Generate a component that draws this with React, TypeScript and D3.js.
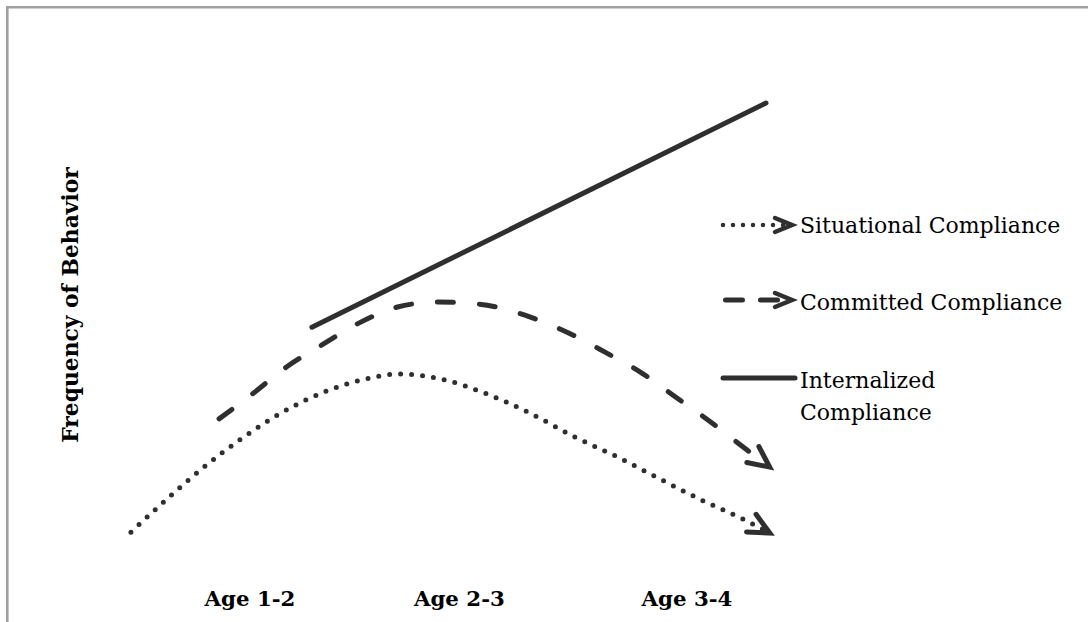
import React from 'react';
import * as d3 from 'd3';

// Categories (x-axis labels) and their positions in months
const categories = ['Age 1-2', 'Age 2-3', 'Age 3-4'];
const categoryMonths = [18, 29.5, 42];

// Situational compliance (dotted)
const situationalMonths = [11.46, 13.44, 15.42, 17.5, 19.7, 22.06, 23.93, 26.24, 28.49, 31.0, 33.38, 35.74, 38.16, 40.5, 42.8, 45.2, 46.45];
const situationalValues = [5.8, 12.7, 19.2, 25.2, 30.6, 35.0, 37.3, 38.75, 37.7, 34.6, 30.6, 25.8, 21.5, 16.9, 12.5, 8.3, 5.8];

// Committed compliance (dashed)
const committedMonths = [16.3, 18.2, 20.0, 21.95, 24.0, 26.1, 28.3, 30.6, 33.4, 35.5, 37.5, 39.5, 41.45, 43.3, 45.3, 46.45];
const committedValues = [29.4, 34.8, 40.2, 44.8, 49.4, 52.7, 53.75, 53.3, 50.6, 47.3, 43.3, 39.0, 33.75, 28.75, 22.9, 19.6];

// Internalized compliance (solid)
const internalizedMonths = [21.4, 46.34];
const internalizedValues = [48.5, 95.2];

const legendLabels = ['Situational Compliance', 'Committed Compliance', 'Internalized Compliance'];
const yAxisLabel = 'Frequency of Behavior';

export default function App() {
  const W = 1088;
  const H = 622;
  const x = d3.scaleLinear().domain([18, 42]).range([250, 687]);
  const y = d3.scaleLinear().domain([0, 100]).range([560, 80]);
  const line = d3
    .line<[number, number]>()
    .x((d) => x(d[0]))
    .y((d) => y(d[1]))
    .curve(d3.curveMonotoneX);

  const sit = line(situationalMonths.map((m, i) => [m, situationalValues[i]]) as [number, number][]) || '';
  const com = line(committedMonths.map((m, i) => [m, committedValues[i]]) as [number, number][]) || '';
  const intl = line(internalizedMonths.map((m, i) => [m, internalizedValues[i]]) as [number, number][]) || '';

  const ink = '#2f2f2f';
  const serif = '"DejaVu Serif", "Liberation Serif", serif';

  return (
    <svg width={W} height={H} style={{ position: 'absolute', left: 0, top: 0 }} xmlns="http://www.w3.org/2000/svg">
      <defs>
        <marker id="arrow" markerUnits="userSpaceOnUse" markerWidth={40} markerHeight={40} viewBox="-30 -20 40 40" refX={-2} refY={0} orient="auto">
          <path d="M-21,-10 L0,0 L-21,10" fill="none" stroke={ink} strokeWidth={5} strokeLinejoin="miter" strokeLinecap="round" />
        </marker>
        <marker id="arrowL" markerUnits="userSpaceOnUse" markerWidth={40} markerHeight={40} viewBox="-30 -20 40 40" refX={-2} refY={0} orient="auto">
          <path d="M-17,-7 L0,0 L-17,7" fill="none" stroke={ink} strokeWidth={4.5} strokeLinejoin="miter" strokeLinecap="round" />
        </marker>
      </defs>
      <rect x={0} y={0} width={W} height={H} fill="#fff" />
      {/* frame */}
      <line x1={7.3} y1={7.3} x2={W} y2={7.3} stroke="#a0a0a0" strokeWidth={2.6} />
      <line x1={7.3} y1={6} x2={7.3} y2={H} stroke="#a0a0a0" strokeWidth={2.6} />

      {/* series */}
      <path d={intl} fill="none" stroke={ink} strokeWidth={5} strokeLinecap="round" />
      <path d={com} fill="none" stroke={ink} strokeWidth={5} strokeLinecap="round" strokeDasharray="16 26" markerEnd="url(#arrow)" />
      <path d={sit} fill="none" stroke={ink} strokeWidth={5} strokeLinecap="round" strokeDasharray="0 11" markerEnd="url(#arrow)" />

      {/* x labels */}
      {categories.map((c, i) => (
        <text key={c} x={x(categoryMonths[i])} y={606} textAnchor="middle" fontFamily={serif} fontWeight="bold" fontSize={21.3} fill="#000">
          {c}
        </text>
      ))}

      {/* y label */}
      <text transform={`translate(78,305) rotate(-90)`} textAnchor="middle" fontFamily={serif} fontWeight="bold" fontSize={21.8} fill="#000">
        {yAxisLabel}
      </text>

      {/* legend */}
      <path d="M723,225 L790,225" fill="none" stroke={ink} strokeWidth={4.5} strokeLinecap="round" strokeDasharray="0 10" markerEnd="url(#arrowL)" />
      <path d="M725.5,300 L790,300" fill="none" stroke={ink} strokeWidth={5} strokeLinecap="round" strokeDasharray="17 18" markerEnd="url(#arrowL)" />
      <path d="M723,378 L795,378" fill="none" stroke={ink} strokeWidth={5} strokeLinecap="round" />
      <text x={800} y={233} fontFamily={serif} fontSize={22} fill="#000">{legendLabels[0]}</text>
      <text x={800} y={310} fontFamily={serif} fontSize={22} fill="#000">{legendLabels[1]}</text>
      <text x={800} y={388} fontFamily={serif} fontSize={22} fill="#000">Internalized</text>
      <text x={800} y={420} fontFamily={serif} fontSize={22} fill="#000">Compliance</text>
    </svg>
  );
}
